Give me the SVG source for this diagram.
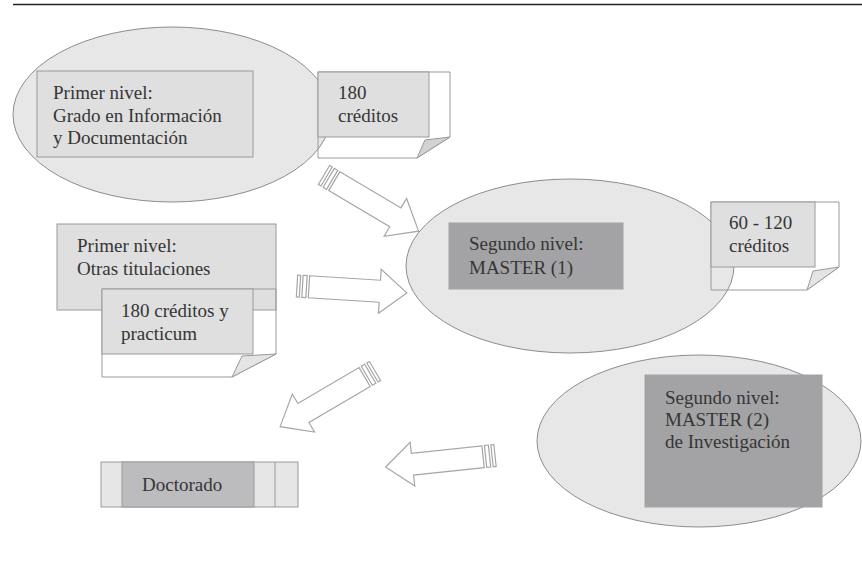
<svg xmlns="http://www.w3.org/2000/svg" xmlns:xlink="http://www.w3.org/1999/xlink" width="862" height="563" viewBox="0 0 862 563">
<style>
.ell{fill:#e7e7e8;stroke:#8c8c8c;stroke-width:1}
.lt{fill:#dfdfe0;stroke:#9a9a9a;stroke-width:1}
.dk{fill:#a3a3a5;stroke:#a3a3a5;stroke-width:1}
.md{fill:#bcbcbe;stroke:#9a9a9a;stroke-width:1}
.pan{fill:none;stroke:#9a9a9a;stroke-width:1}
.fold{fill:#d2d2d3;stroke:#9a9a9a;stroke-width:1}
text{font-family:'Liberation Serif','DejaVu Serif',serif;font-size:19px;fill:#353535}
.arr{fill:#fff;stroke:#a6a6a6;stroke-width:1.2;stroke-linejoin:miter}
</style>
<defs>
<g id="sarrow">
<rect class="arr" x="0" y="-11" width="3" height="22"/>
<rect class="arr" x="5.5" y="-11" width="4" height="22"/>
<path class="arr" d="M12,-11 L83,-11 L83,-22 L110,0 L83,22 L83,11 L12,11 Z"/>
</g>
</defs>
<rect width="862" height="563" fill="#fff"/>
<line x1="13" y1="4.5" x2="862" y2="4.5" stroke="#222" stroke-width="1.6"/>

<g id="node-grado">
<ellipse class="ell" cx="172" cy="114.5" rx="159" ry="87.5"/>
<rect class="lt" x="37" y="71" width="216" height="86"/>
<text x="53" y="99">Primer nivel:</text>
<text x="53" y="121.5">Grado en Información</text>
<text x="53" y="144">y Documentación</text>
</g>

<g id="node-180">
<path class="pan" d="M318,72 L450,72 L450,137 L417,158 L318,158 Z"/>
<rect class="lt" x="318" y="72" width="111" height="65"/>
<path class="fold" d="M417,158 L425,140 L450,137 Z"/>
<text x="338" y="99">180</text>
<text x="338" y="122">créditos</text>
</g>

<g id="node-otras">
<rect class="lt" x="57" y="224" width="219" height="86"/>
<text x="77" y="252">Primer nivel:</text>
<text x="77" y="275">Otras titulaciones</text>
</g>

<g id="node-practicum">
<path class="pan" d="M102,289 L276,289 L276,354 L232,377 L102,377 Z"/>
<rect class="lt" x="102" y="289" width="151" height="65"/>
<path class="fold" style="fill:#e4e4e5" d="M232,377 L242,356 L276,354 Z"/>
<text x="121" y="317">180 créditos y</text>
<text x="121" y="340">practicum</text>
</g>

<g id="node-master1">
<ellipse class="ell" cx="570" cy="266" rx="164" ry="87"/>
<rect class="dk" x="449" y="223" width="174" height="66"/>
<text x="469" y="250">Segundo nivel:</text>
<text x="469" y="274">MASTER (1)</text>
</g>

<g id="node-60-120">
<path class="pan" d="M711,202 L839,202 L839,267 L807,290 L711,290 Z"/>
<rect class="lt" x="711" y="202" width="104" height="65"/>
<path class="fold" style="fill:#e4e4e5" d="M807,290 L813,271 L839,267 Z"/>
<text x="729" y="229">60 - 120</text>
<text x="729" y="252">créditos</text>
</g>

<g id="node-master2">
<ellipse class="ell" cx="699" cy="441" rx="162" ry="86"/>
<rect class="dk" x="645" y="375" width="177" height="132"/>
<text x="665" y="404">Segundo nivel:</text>
<text x="665" y="426">MASTER (2)</text>
<text x="665" y="448">de Investigación</text>
</g>

<g id="node-doctorado">
<rect class="lt" style="fill:#e6e6e7" x="101" y="462" width="197" height="45"/>
<rect class="md" x="122" y="462" width="132" height="45"/>
<line x1="275" y1="462" x2="275" y2="507" stroke="#9a9a9a" stroke-width="1"/>
<text x="142" y="491">Doctorado</text>
</g>

<g id="connectors">
<use xlink:href="#sarrow" transform="translate(324,175) rotate(30.7)"/>
<use xlink:href="#sarrow" transform="translate(297,286) rotate(3.6)"/>
<use xlink:href="#sarrow" transform="translate(375,371) rotate(149.6)"/>
<use xlink:href="#sarrow" transform="translate(495,455.5) rotate(174)"/>
</g>
</svg>
